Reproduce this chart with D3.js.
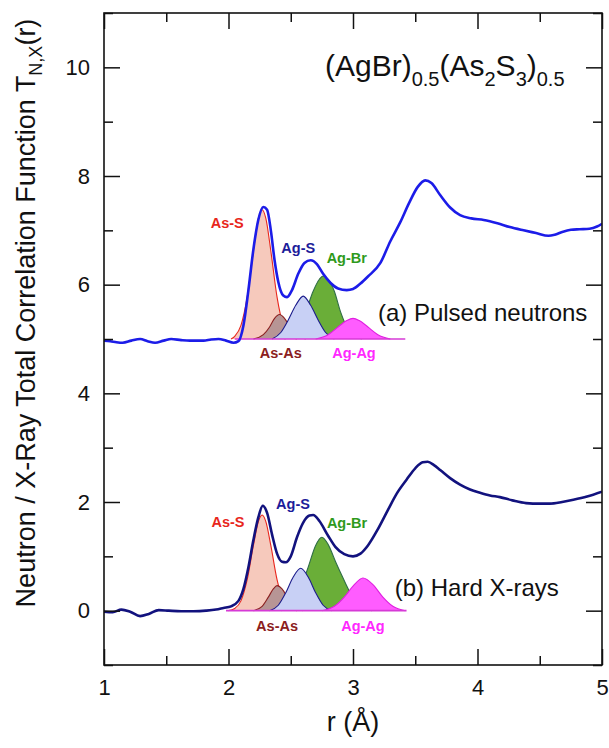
<!DOCTYPE html>
<html><head><meta charset="utf-8">
<script src="https://cdn.jsdelivr.net/npm/d3@7"></script>
<style>body{margin:0;background:#fff} svg{display:block} text{font-family:"Liberation Sans",Arial,sans-serif}</style>
</head><body><svg id="c" width="609" height="748"></svg>
<script>
// ---- data ----
const xMajor = [1, 2, 3, 4, 5];
const xMinor = [1.5, 2.5, 3.5, 4.5];
const yMajor = [0, 2, 4, 6, 8, 10];
const yMinor = [-1, 1, 3, 5, 7, 9, 11];

const neutronTotal = [[1.00,4.97],[1.05,4.96],[1.10,4.94],[1.15,4.93],[1.22,4.97],[1.29,5.00],[1.35,4.96],[1.41,4.93],[1.48,4.97],[1.54,5.00],[1.62,4.98],[1.69,4.97],[1.80,4.97],[1.86,4.99],[1.92,5.00],[1.98,4.97],[2.04,4.93],[2.08,4.96],[2.12,5.25],[2.16,5.90],[2.20,6.65],[2.24,7.20],[2.28,7.43],[2.31,7.38],[2.34,7.00],[2.37,6.45],[2.40,6.05],[2.44,5.80],[2.47,5.77],[2.51,5.90],[2.56,6.20],[2.61,6.40],[2.66,6.45],[2.71,6.38],[2.76,6.20],[2.82,6.03],[2.88,5.93],[2.95,5.90],[3.00,5.92],[3.06,6.02],[3.12,6.15],[3.22,6.40],[3.30,6.80],[3.38,7.15],[3.45,7.50],[3.52,7.80],[3.58,7.92],[3.63,7.87],[3.70,7.65],[3.78,7.42],[3.86,7.28],[3.95,7.22],[4.05,7.19],[4.16,7.13],[4.26,7.06],[4.37,7.00],[4.47,6.95],[4.57,6.90],[4.62,6.92],[4.68,6.97],[4.75,7.01],[4.82,7.02],[4.90,7.03],[4.96,7.07],[5.00,7.12]];

const xrayTotal = [[1.00,-0.02],[1.07,-0.03],[1.14,0.02],[1.21,-0.02],[1.29,-0.10],[1.36,-0.06],[1.44,0.01],[1.52,0.00],[1.62,-0.01],[1.72,-0.01],[1.82,0.00],[1.90,0.02],[1.96,0.05],[2.02,0.08],[2.08,0.18],[2.12,0.40],[2.16,0.80],[2.20,1.30],[2.24,1.72],[2.275,1.93],[2.31,1.80],[2.35,1.40],[2.39,1.05],[2.43,0.90],[2.46,0.89],[2.50,1.00],[2.55,1.35],[2.60,1.62],[2.65,1.75],[2.68,1.76],[2.73,1.65],[2.80,1.38],[2.86,1.17],[2.93,1.04],[3.00,1.00],[3.06,1.05],[3.12,1.20],[3.20,1.50],[3.28,1.85],[3.35,2.15],[3.43,2.41],[3.50,2.62],[3.56,2.73],[3.60,2.74],[3.65,2.68],[3.70,2.59],[3.78,2.44],[3.86,2.32],[3.94,2.23],[4.02,2.17],[4.10,2.12],[4.18,2.09],[4.28,2.03],[4.39,1.98],[4.50,1.97],[4.58,1.97],[4.68,2.00],[4.77,2.04],[4.88,2.10],[5.00,2.19]];

// neutron partial peaks (baseline 5)
const nAsS  = [[2.02,5.0],[2.05,5.05],[2.10,5.25],[2.15,5.77],[2.20,6.62],[2.24,7.22],[2.27,7.38],[2.30,7.22],[2.34,6.62],[2.39,5.77],[2.44,5.25],[2.49,5.05],[2.55,5.0]];
const nAsAs = [[2.20,5.0],[2.28,5.08],[2.33,5.22],[2.37,5.38],[2.41,5.45],[2.45,5.38],[2.50,5.20],[2.55,5.07],[2.62,5.0]];
const nAgS  = [[2.35,5.0],[2.42,5.12],[2.48,5.35],[2.54,5.62],[2.60,5.79],[2.66,5.62],[2.72,5.35],[2.78,5.12],[2.85,5.0]];
const nAgBr = [[2.45,5.0],[2.55,5.15],[2.62,5.5],[2.68,5.88],[2.73,6.1],[2.76,6.16],[2.80,6.1],[2.85,5.88],[2.90,5.5],[2.97,5.15],[3.07,5.0]];
const nAgAg = [[2.70,5.0],[2.80,5.08],[2.88,5.22],[2.95,5.34],[3.00,5.38],[3.05,5.34],[3.12,5.22],[3.20,5.08],[3.30,5.0]];
const nBaseline = [[2.05,5.0],[3.42,5.0]];

// x-ray partial peaks (baseline 0)
const xAsS  = [[2.00,0.0],[2.05,0.04],[2.10,0.18],[2.15,0.57],[2.20,1.20],[2.24,1.64],[2.27,1.76],[2.30,1.64],[2.34,1.20],[2.39,0.57],[2.44,0.18],[2.49,0.04],[2.55,0.0]];
const xAsAs = [[2.20,0.0],[2.27,0.08],[2.32,0.25],[2.36,0.40],[2.39,0.46],[2.43,0.40],[2.48,0.22],[2.53,0.08],[2.60,0.0]];
const xAgS  = [[2.33,0.0],[2.40,0.10],[2.46,0.33],[2.52,0.62],[2.58,0.78],[2.64,0.62],[2.70,0.33],[2.76,0.10],[2.83,0.0]];
const xAgBr = [[2.42,0.0],[2.52,0.15],[2.58,0.42],[2.64,0.80],[2.70,1.20],[2.75,1.35],[2.80,1.22],[2.86,0.90],[2.92,0.60],[2.98,0.32],[3.05,0.10],[3.15,0.0]];
const xAgAg = [[2.75,0.0],[2.85,0.08],[2.93,0.25],[3.00,0.45],[3.08,0.60],[3.16,0.48],[3.24,0.25],[3.32,0.08],[3.42,0.0]];
const xBaseline = [[1.98,0.0],[3.43,0.0]];

const pairNames = ["As-S", "As-As", "Ag-S", "Ag-Br", "Ag-Ag"];

// ---- drawing ----
const L = 104, R = 602, T = 13, B = 665;
const svg = d3.select("#c");
const x = d3.scaleLinear([1, 5], [L, R]);
const y = d3.scaleLinear([-1, 11], [B, T]);

const styles = {
  "As-S":  {fill: "#f6c9bc", stroke: "#e8261c", label: "#e8261c"},
  "As-As": {fill: "#b79595", stroke: "#8b2020", label: "#8b2020"},
  "Ag-S":  {fill: "#c8d0f5", stroke: "#1c1c8c", label: "#1c1c9a"},
  "Ag-Br": {fill: "#6aae38", stroke: "#2f6e46", label: "#2f9a1c"},
  "Ag-Ag": {fill: "#ff5cff", stroke: "#e020e0", label: "#ff28ff"}
};

svg.append("defs").append("clipPath").attr("id", "pc")
  .append("rect").attr("x", L).attr("y", T).attr("width", R - L).attr("height", B - T);
const plot = svg.append("g").attr("clip-path", "url(#pc)");

function drawPartials(sets, base) {
  const order = ["As-S", "Ag-Br", "As-As", "Ag-S", "Ag-Ag"];
  order.forEach(name => {
    const d = sets[name];
    const st = styles[name];
    plot.append("path").datum(d)
      .attr("d", d3.area().x(p => x(p[0])).y0(y(base)).y1(p => y(p[1])).curve(d3.curveMonotoneX))
      .attr("fill", st.fill).attr("stroke", "none");
    plot.append("path").datum(d)
      .attr("d", d3.line().x(p => x(p[0])).y(p => y(p[1])).curve(d3.curveMonotoneX))
      .attr("fill", "none").attr("stroke", st.stroke).attr("stroke-width", 1.1);
  });
}

drawPartials({"As-S": nAsS, "As-As": nAsAs, "Ag-S": nAgS, "Ag-Br": nAgBr, "Ag-Ag": nAgAg}, 5);
drawPartials({"As-S": xAsS, "As-As": xAsAs, "Ag-S": xAgS, "Ag-Br": xAgBr, "Ag-Ag": xAgAg}, 0);

[nBaseline, xBaseline].forEach(d => {
  plot.append("path").datum(d)
    .attr("d", d3.line().x(p => x(p[0])).y(p => y(p[1])))
    .attr("stroke", "#d63ad6").attr("stroke-width", 1.6).attr("fill", "none");
});

const totalLine = d3.line().x(p => x(p[0])).y(p => y(p[1])).curve(d3.curveMonotoneX);
plot.append("path").datum(neutronTotal).attr("d", totalLine)
  .attr("fill", "none").attr("stroke", "#1c1ce8").attr("stroke-width", 2.6);
plot.append("path").datum(xrayTotal).attr("d", totalLine)
  .attr("fill", "none").attr("stroke", "#12127e").attr("stroke-width", 2.6);

// axes
const MAJ = 16, MIN = 9;
function axisGroup(gen, tx, ty) {
  const g = svg.append("g").attr("transform", `translate(${tx},${ty})`).call(gen);
  g.select(".domain").remove();
  g.selectAll("line").attr("stroke", "#111").attr("stroke-width", 1.5);
  g.selectAll("text").attr("fill", "#111").style("font-size", "22px")
    .style("font-family", '"Liberation Sans", Arial, sans-serif');
  return g;
}
axisGroup(d3.axisBottom(x).tickValues(xMajor).tickSize(-MAJ).tickPadding(14).tickFormat(d3.format("d")), 0, B);
axisGroup(d3.axisBottom(x).tickValues(xMinor).tickSize(-MIN).tickFormat(""), 0, B);
axisGroup(d3.axisTop(x).tickValues(xMajor).tickSize(-MAJ).tickFormat(""), 0, T);
axisGroup(d3.axisTop(x).tickValues(xMinor).tickSize(-MIN).tickFormat(""), 0, T);
axisGroup(d3.axisLeft(y).tickValues(yMajor).tickSize(-MAJ).tickPadding(14).tickFormat(d3.format("d")), L, 0);
axisGroup(d3.axisLeft(y).tickValues(yMinor).tickSize(-MIN).tickFormat(""), L, 0);
axisGroup(d3.axisRight(y).tickValues(yMajor).tickSize(-MAJ).tickFormat(""), R, 0);
axisGroup(d3.axisRight(y).tickValues(yMinor).tickSize(-MIN).tickFormat(""), R, 0);

svg.append("rect").attr("x", L).attr("y", T).attr("width", R - L).attr("height", B - T)
  .attr("fill", "none").attr("stroke", "#111").attr("stroke-width", 1.6);

// axis titles
svg.append("text").attr("x", (L + R) / 2).attr("y", 731).attr("text-anchor", "middle")
  .style("font-size", "27px").attr("fill", "#111").text("r (Å)");

const yt = svg.append("text").attr("transform", "translate(35,313) rotate(-90)")
  .attr("text-anchor", "middle").style("font-size", "27px").attr("fill", "#111");
yt.append("tspan").text("Neutron / X-Ray Total Correlation Function T");
yt.append("tspan").attr("dy", 7).style("font-size", "18px").text("N,X");
yt.append("tspan").attr("dy", -7).text("(r)");

// title
const tt = svg.append("text").attr("x", x(2.775)).attr("y", y(9.84)).style("font-size", "30px").attr("fill", "#111");
const parts = [["(AgBr)", 0], ["0.5", 1], ["(As", 0], ["2", 1], ["S", 0], ["3", 1], [")", 0], ["0.5", 1]];
let prev = 0;
parts.forEach(([t, sub]) => {
  const dy = (sub - prev) * 10;
  tt.append("tspan").attr("dy", dy).style("font-size", sub ? "20px" : "30px").text(t);
  prev = sub;
});

// panel labels
svg.append("text").attr("x", x(3.20)).attr("y", y(5.34)).style("font-size", "24px").attr("fill", "#111").text("(a) Pulsed neutrons");
svg.append("text").attr("x", x(3.335)).attr("y", y(0.27)).style("font-size", "24px").attr("fill", "#111").text("(b) Hard X-rays");

// partial labels
const nLabelPos = [[1.99, 7.04], [2.42, 4.65], [2.56, 6.58], [2.95, 6.40], [3.008, 4.65]];
const xLabelPos = [[1.996, 1.54], [2.39, -0.374], [2.518, 1.871], [2.952, 1.521], [3.08, -0.374]];
[nLabelPos, xLabelPos].forEach(pos => {
  pairNames.forEach((name, i) => {
    svg.append("text").attr("x", x(pos[i][0])).attr("y", y(pos[i][1]))
      .attr("text-anchor", "middle").style("font-size", "14.5px").style("font-weight", "bold")
      .attr("fill", styles[name].label).text(name);
  });
});
</script></body></html>
